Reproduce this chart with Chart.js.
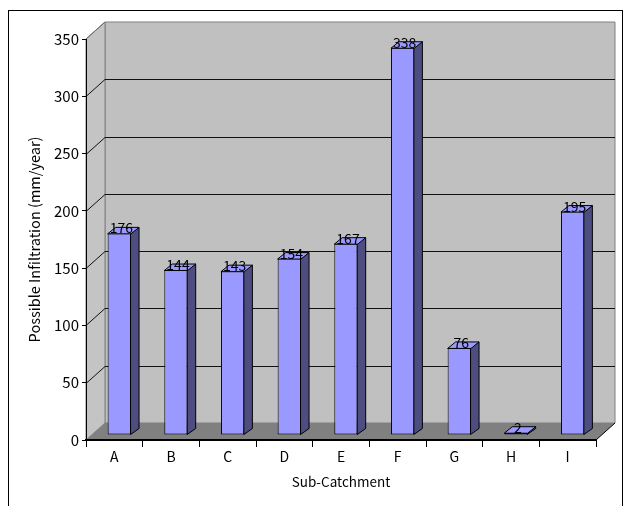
<!DOCTYPE html>
<html>
<head>
<meta charset="utf-8">
<script src="https://cdn.jsdelivr.net/npm/chart.js@4/dist/chart.umd.min.js"></script>
<style>
  html, body { margin: 0; padding: 0; background: #fff; overflow: hidden; }
  canvas { display: block; }
</style>
</head>
<body>
<canvas id="chart" width="631" height="506"></canvas>
<script>
// Sub-catchment infiltration values (mm/year)
const categories = ['A', 'B', 'C', 'D', 'E', 'F', 'G', 'H', 'I'];
const infiltration = [176, 144, 143, 154, 167, 338, 76, 2, 195];
const yMin = 0;
const yMax = 350;
const yStep = 50;

// Oblique projection offsets for the 3D look
const WALL_DX = 19, WALL_DY = -17;   // depth of the back wall
const BAR_DX = 5, BAR_DY = -5;       // bar front plane, set back from the axis
const SIDE_DX = 8, SIDE_DY = -6;     // depth of each column

const FRONT = '#9999ff';
const SIDE = '#4d4d80';
const TOP = '#9999ff';

const FONT = "'Noto Sans CJK JP', 'Noto Sans', sans-serif";

function poly(ctx, pts, fill, stroke, lw) {
  ctx.beginPath();
  ctx.moveTo(pts[0][0], pts[0][1]);
  for (let i = 1; i < pts.length; i++) ctx.lineTo(pts[i][0], pts[i][1]);
  ctx.closePath();
  if (fill) { ctx.fillStyle = fill; ctx.fill(); }
  if (stroke) { ctx.strokeStyle = stroke; ctx.lineWidth = lw || 1; ctx.stroke(); }
}

const walls3d = {
  id: 'walls3d',
  beforeDraw(chart) {
    const ctx = chart.ctx;
    const a = chart.chartArea;
    const ys = chart.scales.y;
    const L = a.left, R = a.right, T = a.top, B = a.bottom;
    ctx.save();
    // outer frame
    ctx.strokeStyle = '#000';
    ctx.lineWidth = 1;
    ctx.strokeRect(8.5, 10.5, 614, 540);

    // back wall
    poly(ctx, [[L + WALL_DX, T + WALL_DY], [R + WALL_DX, T + WALL_DY],
               [R + WALL_DX, B + WALL_DY], [L + WALL_DX, B + WALL_DY]], '#c0c0c0', '#808080', 1);
    // left side wall
    poly(ctx, [[L, T], [L + WALL_DX, T + WALL_DY], [L + WALL_DX, B + WALL_DY], [L, B]], '#c4c4c4', '#808080', 1);

    // gridlines across the back wall and down the side wall
    for (let v = yMin + yStep; v < yMax; v += yStep) {
      const py = Math.round(ys.getPixelForValue(v)) + 0.5;
      ctx.beginPath();
      ctx.moveTo(L, py);
      ctx.lineTo(L + WALL_DX, py + WALL_DY);
      ctx.lineTo(R + WALL_DX, py + WALL_DY);
      ctx.strokeStyle = '#111';
      ctx.lineWidth = 1;
      ctx.stroke();
    }
    // top edge of the side wall
    ctx.beginPath();
    ctx.moveTo(L, T);
    ctx.lineTo(L + WALL_DX, T + WALL_DY);
    ctx.strokeStyle = '#666';
    ctx.stroke();

    // floor
    poly(ctx, [[L, B], [L + WALL_DX, B + WALL_DY], [R + WALL_DX, B + WALL_DY], [R, B]], '#808080', null);
    ctx.beginPath();
    ctx.moveTo(R, B);
    ctx.lineTo(R + WALL_DX, B + WALL_DY);
    ctx.strokeStyle = '#000';
    ctx.lineWidth = 1;
    ctx.stroke();
    ctx.restore();
  },
  beforeDatasetsDraw(chart) {
    chart.ctx.save();
    chart.ctx.translate(BAR_DX, BAR_DY);
  },
  afterDatasetsDraw(chart) {
    const ctx = chart.ctx;
    ctx.restore();
    const meta = chart.getDatasetMeta(0);
    const values = chart.data.datasets[0].data;
    ctx.save();
    ctx.lineJoin = 'miter';
    meta.data.forEach((bar, i) => {
      const p = bar.getProps(['x', 'y', 'base', 'width'], true);
      const l = p.x - p.width / 2 + BAR_DX;
      const r = p.x + p.width / 2 + BAR_DX;
      const t = p.y + BAR_DY;
      const b = p.base + BAR_DY;
      // right side face
      poly(ctx, [[r - 0.5, t], [r + SIDE_DX, t + SIDE_DY], [r + SIDE_DX, b + SIDE_DY], [r - 0.5, b]], SIDE, '#000', 1);
      // top face
      poly(ctx, [[l, t + 0.5], [l + SIDE_DX, t + SIDE_DY], [r + SIDE_DX, t + SIDE_DY], [r, t + 0.5]], TOP, '#000', 1);
      // value label
      ctx.fillStyle = '#000';
      ctx.font = '14px ' + FONT;
      ctx.textAlign = 'center';
      ctx.textBaseline = 'alphabetic';
      ctx.fillText(String(values[i]), p.x + BAR_DX + 2, t);
    });
    ctx.restore();
  }
};

Chart.defaults.font.family = FONT;
Chart.defaults.font.size = 13;
Chart.defaults.color = '#000';

new Chart(document.getElementById('chart'), {
  type: 'bar',
  data: {
    labels: categories,
    datasets: [{
      data: infiltration,
      backgroundColor: FRONT,
      borderColor: '#000',
      borderWidth: 1,
      borderSkipped: false,
      barPercentage: 0.413,
      categoryPercentage: 1
    }]
  },
  options: {
    responsive: false,
    animation: false,
    devicePixelRatio: 1,
    layout: { padding: { top: 39, right: 35, left: 0, bottom: 0 } },
    plugins: { legend: { display: false }, tooltip: { enabled: false } },
    scales: {
      x: {
        offset: true,
        ticks: { color: '#000', padding: 1, font: { size: 14 } },
        grid: { display: true, drawOnChartArea: false, offset: true, tickLength: 7, color: '#000', lineWidth: 1 },
        border: { display: true, color: '#000', width: 2 },
        title: { display: true, text: 'Sub-Catchment', color: '#000', font: { size: 13.5 }, padding: { top: 0, bottom: 16 } },
        afterFit(s) { s.height = 66; }
      },
      y: {
        min: yMin,
        max: yMax,
        ticks: { stepSize: yStep, color: '#000', padding: 3, font: { size: 15 } },
        grid: { display: true, drawOnChartArea: false, drawTicks: true, tickLength: 4, color: '#000', lineWidth: 1 },
        border: { display: true, color: '#000', width: 1 },
        title: { display: true, text: 'Possible Infiltration (mm/year)', color: '#000', font: { size: 14.5 }, padding: { top: 26, bottom: 0 } },
        afterFit(s) { s.width = 86; }
      }
    }
  },
  plugins: [walls3d]
});
</script>
</body>
</html>
